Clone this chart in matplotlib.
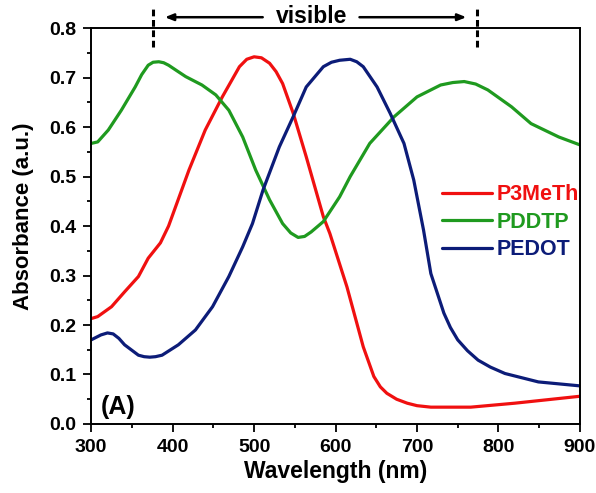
import numpy as np
import matplotlib.pyplot as plt
from matplotlib.ticker import MultipleLocator

plt.rcParams['font.family'] = ['Liberation Sans', 'DejaVu Sans']
plt.rcParams['font.weight'] = 'bold'

# Absorption spectra
wl_p3meth = [300, 308, 325, 341, 358, 370, 385, 395, 420, 440, 461, 482, 491, 500, 509, 519,
             527, 535, 548, 564, 585, 593, 614, 634, 647, 655, 663, 675, 688, 700, 717, 766,
             820, 900]
abs_p3meth = [0.213, 0.217, 0.237, 0.267, 0.298, 0.335, 0.366, 0.400, 0.513, 0.594, 0.661,
              0.722, 0.737, 0.742, 0.740, 0.729, 0.712, 0.688, 0.628, 0.540, 0.419, 0.385,
              0.277, 0.156, 0.096, 0.075, 0.062, 0.050, 0.042, 0.037, 0.034, 0.034, 0.042,
              0.056]

wl_pddtp = [300, 308, 321, 337, 354, 362, 370, 376, 383, 389, 395, 405, 416, 436, 453, 469,
            486, 502, 519, 535, 545, 554, 562, 570, 585, 605, 618, 642, 672, 700, 729, 744,
            758, 772, 787, 816, 840, 874, 900]
abs_pddtp = [0.567, 0.570, 0.594, 0.634, 0.681, 0.706, 0.725, 0.731, 0.732, 0.730, 0.725,
             0.714, 0.702, 0.685, 0.665, 0.634, 0.580, 0.513, 0.453, 0.405, 0.386, 0.377,
             0.379, 0.388, 0.409, 0.459, 0.500, 0.567, 0.621, 0.661, 0.685, 0.690, 0.692,
             0.687, 0.675, 0.641, 0.607, 0.580, 0.564]

wl_pedot = [300, 312, 320, 327, 334, 341, 358, 365, 372, 379, 387, 407, 428, 449, 469, 486,
            498, 511, 531, 548, 564, 585, 595, 605, 618, 626, 634, 651, 667, 684, 696, 708,
            717, 733, 741, 750, 762, 775, 790, 808, 849, 900]
abs_pedot = [0.170, 0.180, 0.184, 0.182, 0.173, 0.160, 0.139, 0.136, 0.135, 0.136, 0.139,
             0.160, 0.190, 0.237, 0.298, 0.358, 0.405, 0.473, 0.560, 0.621, 0.681, 0.722,
             0.731, 0.735, 0.737, 0.732, 0.722, 0.681, 0.628, 0.567, 0.493, 0.392, 0.304,
             0.224, 0.195, 0.170, 0.148, 0.129, 0.115, 0.102, 0.085, 0.077]

visible_range = (376, 774)

fig = plt.figure(figsize=(5.96, 4.93), dpi=100)
ax = fig.add_axes([0.153, 0.140, 0.820, 0.803])

line_kw = dict(lw=2.3, solid_joinstyle='round', solid_capstyle='round')
ax.plot(wl_p3meth, abs_p3meth, color='#f01010', label='P3MeTh', **line_kw)
ax.plot(wl_pddtp, abs_pddtp, color='#1f9a1f', label='PDDTP', **line_kw)
ax.plot(wl_pedot, abs_pedot, color='#0c1c78', label='PEDOT', **line_kw)

ax.set_xlim(300, 900)
ax.set_ylim(0, 0.8)
ax.xaxis.set_major_locator(MultipleLocator(100))
ax.xaxis.set_minor_locator(MultipleLocator(50))
ax.yaxis.set_major_locator(MultipleLocator(0.1))
ax.yaxis.set_minor_locator(MultipleLocator(0.05))
ax.tick_params(which='both', direction='out', top=False, right=False, width=1.3,
               labelsize=14, pad=5)
ax.tick_params(which='major', length=6)
ax.tick_params(which='minor', length=3)
for s in ax.spines.values():
    s.set_linewidth(1.4)

ax.set_xlabel('Wavelength (nm)', fontsize=16.5, fontweight='bold', labelpad=3)
ax.set_ylabel('Absorbance (a.u.)', fontsize=16, fontweight='bold')
ax.yaxis.set_label_coords(-0.118, 0.525)

leg = ax.legend(loc='center left', bbox_to_anchor=(0.718, 0.51), frameon=False,
                labelcolor='linecolor', prop={'size': 15.5, 'weight': 'bold'},
                handlelength=2.3, handletextpad=0.25, labelspacing=0.3,
                borderpad=0, borderaxespad=0)

ax.text(0.02, 0.025, '(A)', transform=ax.transAxes, fontsize=18, fontweight='bold')

# visible range marker above the axes
for xv in visible_range:
    ax.plot([xv, xv], [0.762, 0.840], color='black', lw=2.2, ls=(0, (2.2, 1.2)), clip_on=False)
ax.text(570, 0.823, 'visible', ha='center', va='center', fontsize=16.5, fontweight='bold')
arrow_kw = dict(arrowstyle='-|>,head_length=0.5,head_width=0.2', lw=1.8, color='black')
ax.annotate('', xy=(387, 0.822), xytext=(514, 0.822), annotation_clip=False,
            arrowprops=arrow_kw)
ax.annotate('', xy=(764, 0.822), xytext=(626, 0.822), annotation_clip=False,
            arrowprops=arrow_kw)

fig.savefig('out.png', dpi=100)
